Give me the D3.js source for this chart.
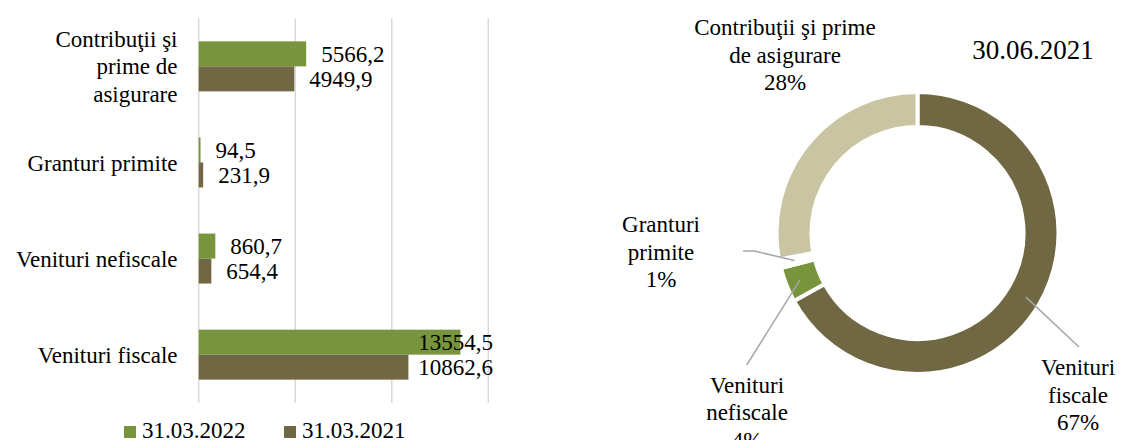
<!DOCTYPE html>
<html>
<head>
<meta charset="utf-8">
<script src="https://cdn.jsdelivr.net/npm/d3@7"></script>
<style>
    body { margin: 0; background: #fff; }
    text { font-family: "Liberation Serif", "DejaVu Serif", serif; fill: #000; }
</style>
</head>
<body>
<div id="svg-container"></div>
<script>
// bar chart data (mil. lei)
var categories = ["Contribuţii şi prime de asigurare", "Granturi primite", "Venituri nefiscale", "Venituri fiscale"]
var catLines = [["Contribuţii şi", "prime de", "asigurare"], ["Granturi primite"], ["Venituri nefiscale"], ["Venituri fiscale"]]
var series = ["31.03.2022", "31.03.2021"]
var values2022 = [5566.2, 94.5, 860.7, 13554.5]
var values2021 = [4949.9, 231.9, 654.4, 10862.6]
var xTicks = [0, 5000, 10000, 15000]

// donut data, shares at 30.06.2021
var donutTitle = "30.06.2021"
var donutCats = ["Venituri fiscale", "Venituri nefiscale", "Granturi primite", "Contribuţii şi prime de asigurare"]
var donutShares = [67, 4, 1, 28]
var donutLabelLines = [["Venituri", "fiscale", "67%"], ["Venituri", "nefiscale", "4%"], ["Granturi", "primite", "1%"], ["Contribuţii şi prime", "de asigurare", "28%"]]

var green = "#78943d"
var brown = "#706842"
var beige = "#c9c4a1"

var fs = 23
var lineH = 27.5

svg = d3.select("#svg-container")
    .append("svg")
    .attr("width", 1127)
    .attr("height", 440)

// ---- bar chart ----
xScale = d3.scaleLinear()
    .domain([0, 15000])
    .range([198.7, 488.3])

yScale = d3.scaleBand()
    .domain(categories)
    .range([18.3, 402.7])
    .paddingInner(0.48)
    .paddingOuter(0.24)

inner = d3.scaleBand()
    .domain(series)
    .range([0, yScale.bandwidth()])

svg.append("g")
    .selectAll("line")
    .data(xTicks)
    .enter()
    .append("line")
    .attr("x1", (d) => xScale(d))
    .attr("x2", (d) => xScale(d))
    .attr("y1", 18.3)
    .attr("y2", 402.7)
    .attr("stroke", "#d9d9d9")
    .attr("stroke-width", 1.5)

var rows = []
categories.forEach(function(c, i) {
    rows.push({ cat: c, s: series[0], v: values2022[i], color: green })
    rows.push({ cat: c, s: series[1], v: values2021[i], color: brown })
})

bars = svg.append("g")
    .selectAll("g")
    .data(rows)
    .enter()
    .append("g")

bars.append("rect")
    .attr("x", xScale(0))
    .attr("y", (d) => yScale(d.cat) + inner(d.s))
    .attr("width", (d) => xScale(d.v) - xScale(0))
    .attr("height", inner.bandwidth())
    .attr("fill", (d) => d.color)

bars.append("text")
    .attr("x", (d) => xScale(d.v) + 15)
    .attr("y", (d) => yScale(d.cat) + inner(d.s) + inner.bandwidth() / 2)
    .attr("dy", "0.35em")
    .attr("font-size", fs)
    .text((d) => d3.format(".1f")(d.v).replace(".", ","))
    .each(function(d) {
        // keep labels inside the plot area
        var w = this.getComputedTextLength()
        if (xScale(d.v) + 15 + w > 493) {
            d3.select(this).attr("x", 493).attr("text-anchor", "end")
        }
    })

catText = svg.append("g")
    .selectAll("text")
    .data(categories)
    .enter()
    .append("text")
    .attr("text-anchor", "end")
    .attr("font-size", fs)
    .attr("y", (d) => yScale(d) + yScale.bandwidth() / 2)

catText.selectAll("tspan")
    .data((d, i) => catLines[i].map((t, j) => ({ t: t, j: j, n: catLines[i].length })))
    .enter()
    .append("tspan")
    .attr("x", 177.5)
    .attr("dy", (e) => e.j == 0 ? (0.35 * fs - (e.n - 1) * lineH / 2) : lineH)
    .text((e) => e.t)

// legend
legend = svg.append("g")
    .selectAll("g")
    .data(series)
    .enter()
    .append("g")
    .attr("transform", (d, i) => "translate(" + [124, 284][i] + ",0)")

legend.append("rect")
    .attr("x", 0)
    .attr("y", 426)
    .attr("width", 12)
    .attr("height", 12)
    .attr("fill", (d, i) => [green, brown][i])

legend.append("text")
    .attr("x", 18)
    .attr("y", 438)
    .attr("font-size", fs)
    .text((d) => d)

// ---- donut ----
var cx = 917.5, cy = 233
var donutColors = [brown, green, "#ffffff", beige]

pie = d3.pie().sort(null).value((d) => d)
arc = d3.arc().innerRadius(106).outerRadius(141)
lineArc = d3.arc().innerRadius(126).outerRadius(126)

donut = svg.append("g")
    .attr("transform", "translate(" + cx + "," + cy + ")")

slices = pie(donutShares)

donut.selectAll("path")
    .data(slices)
    .enter()
    .append("path")
    .attr("d", arc)
    .attr("fill", (d, i) => donutColors[i])
    .attr("stroke", "#fff")
    .attr("stroke-width", 4)

// label placement (layout only)
var labelPos = [[1078, 375], [747, 392.7], [661, 232], [785, 35]]
var leaderEnd = [[[1079, 347]], [[746.7, 365]], [[743, 251], [754, 251]], null]

slices.forEach(function(s, i) {
    if (!leaderEnd[i]) return
    var c = lineArc.centroid(s)
    var pts = leaderEnd[i].concat([[cx + c[0], cy + c[1]]])
    svg.append("path")
        .attr("d", d3.line()(pts))
        .attr("fill", "none")
        .attr("stroke", "#a6a6a6")
        .attr("stroke-width", 1.5)
})

dl = svg.append("g")
    .selectAll("text")
    .data(donutCats)
    .enter()
    .append("text")
    .attr("text-anchor", "middle")
    .attr("font-size", fs)
    .attr("y", (d, i) => labelPos[i][1])

dl.selectAll("tspan")
    .data((d, i) => donutLabelLines[i].map((t, j) => ({ t: t, j: j, x: labelPos[i][0] })))
    .enter()
    .append("tspan")
    .attr("x", (e) => e.x)
    .attr("dy", (e) => e.j == 0 ? 0 : lineH)
    .text((e) => e.t)

svg.append("text")
    .attr("x", 1033)
    .attr("y", 59)
    .attr("text-anchor", "middle")
    .attr("font-size", 27)
    .text(donutTitle)
</script>
</body>
</html>
